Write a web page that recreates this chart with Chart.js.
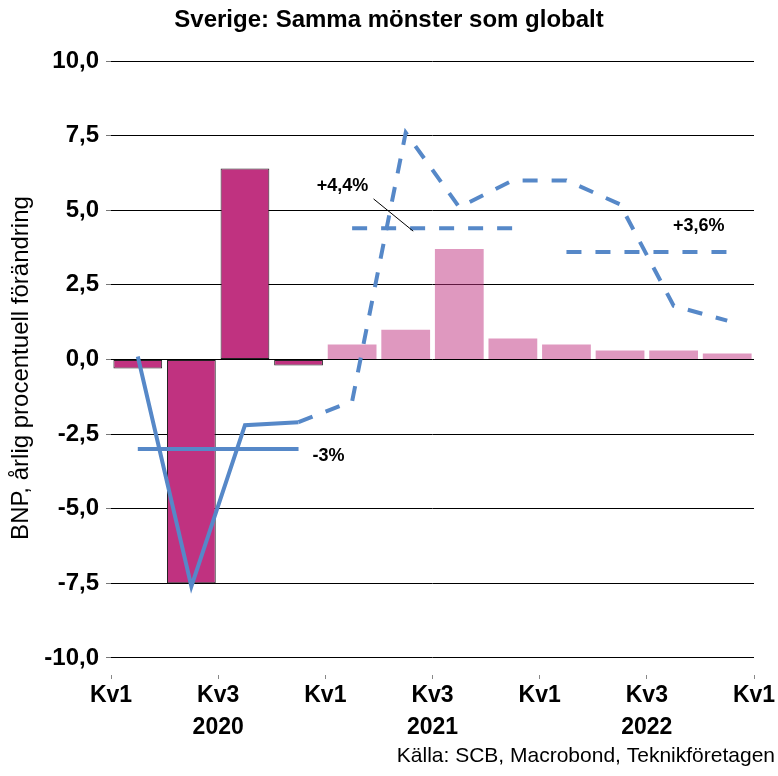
<!doctype html>
<html>
<head>
<meta charset="utf-8">
<title>Sverige: Samma mönster som globalt</title>
<script src="https://cdn.jsdelivr.net/npm/chart.js@4.4.1/dist/chart.umd.min.js"></script>
<style>
  html, body { margin: 0; padding: 0; background: #fff; }
</style>
</head>
<body>
<canvas id="chart" width="778" height="776"></canvas>
<script>
// kvartal 2020 Kv1 .. 2022 Kv4
var quarters = ['2020 Kv1', '2020 Kv2', '2020 Kv3', '2020 Kv4',
                '2021 Kv1', '2021 Kv2', '2021 Kv3', '2021 Kv4',
                '2022 Kv1', '2022 Kv2', '2022 Kv3', '2022 Kv4'];
// staplar: kvartalsförändring (mörka = utfall, ljusa = prognos)
var bnpBars = [-0.3, -7.5, 6.4, -0.2, 0.5, 1.0, 3.7, 0.7, 0.5, 0.3, 0.3, 0.2];
var outcomeCount = 4;
// linje: årlig procentuell förändring
var bnpYearly = [0.1, -7.6, -2.2, -2.1, -1.4, 7.6, 5.1, 6.0, 6.0, 5.2, 1.8, 1.3];
// årsgenomsnitt
var yearAvg = [-3.0, 4.4, 3.6];
var yearAvgLabels = ['-3%', '+4,4%', '+3,6%'];
// var etiketterna sitter (i kvartal / procent)
var yearAvgLabelX = [4.06, 4.32, 10.97];
var yearAvgLabelY = [-3.25, 5.81, 4.47];
var leaderX = [4.90, 5.64];
var leaderY = [5.38, 4.30];

var kvLabels = ['Kv1', 'Kv3', 'Kv1', 'Kv3', 'Kv1', 'Kv3', 'Kv1'];
var yearLabels = ['', '2020', '', '2021', '', '2022', ''];
var yTicks = [-10, -7.5, -5, -2.5, 0, 2.5, 5, 7.5, 10];

var darkColor = 'rgb(192,50,128)';
var lightColor = 'rgba(192,50,128,0.5)';
var blue = 'rgb(86,136,200)';
var fontFamily = '"Liberation Sans", Arial, sans-serif';

function pt(i, v) { return {x: i + 0.5, y: v}; }

var barData = bnpBars.map(function (v, i) { return pt(i, v); });
var solidLine = [], dashLine = [];
bnpYearly.forEach(function (v, i) {
    if (i < outcomeCount) solidLine.push(pt(i, v));
    if (i >= outcomeCount - 1) dashLine.push(pt(i, v));
});

var lineBase = {
    type: 'line', borderColor: blue, borderWidth: 4, pointRadius: 0,
    tension: 0, fill: false, borderCapStyle: 'butt', order: 1
};
var datasets = [
    Object.assign({}, lineBase, {data: solidLine}),
    Object.assign({}, lineBase, {data: dashLine, borderDash: [15, 14]})
];
yearAvg.forEach(function (v, k) {
    var d = [pt(k * 4, v), pt(k * 4 + 3, v)];
    var ds = Object.assign({}, lineBase, {data: d});
    if (k > 0) ds.borderDash = [15, 14];
    datasets.push(ds);
});
datasets.push({
    type: 'bar',
    data: barData,
    order: 2,
    backgroundColor: bnpBars.map(function (v, i) { return i < outcomeCount ? darkColor : lightColor; }),
    borderColor: '#222',
    borderWidth: bnpBars.map(function (v, i) { return i < outcomeCount ? 1 : 0; }),
    borderSkipped: false,
    barPercentage: 0.91,
    categoryPercentage: 1
});

var notes = {
    id: 'notes',
    afterDatasetsDraw: function (chart) {
        var ctx = chart.ctx, xs = chart.scales.x, ys = chart.scales.y;
        ctx.save();
        ctx.fillStyle = '#000';
        ctx.font = 'bold 18px ' + fontFamily;
        ctx.textAlign = 'center';
        ctx.textBaseline = 'middle';
        yearAvgLabels.forEach(function (t, i) {
            ctx.fillText(t, xs.getPixelForValue(yearAvgLabelX[i]), ys.getPixelForValue(yearAvgLabelY[i]));
        });
        ctx.strokeStyle = '#000';
        ctx.lineWidth = 1;
        ctx.beginPath();
        ctx.moveTo(xs.getPixelForValue(leaderX[0]), ys.getPixelForValue(leaderY[0]));
        ctx.lineTo(xs.getPixelForValue(leaderX[1]), ys.getPixelForValue(leaderY[1]));
        ctx.stroke();
        ctx.font = '21px ' + fontFamily;
        ctx.textAlign = 'right';
        ctx.fillText('Källa: SCB, Macrobond, Teknikföretagen', 775, 756);
        ctx.restore();
    }
};

new Chart(document.getElementById('chart').getContext('2d'), {
    type: 'bar',
    data: {datasets: datasets},
    plugins: [notes],
    options: {
        responsive: false,
        animation: false,
        layout: {padding: 0},
        plugins: {
            legend: {display: false},
            tooltip: {enabled: false},
            title: {
                display: true,
                text: 'Sverige: Samma mönster som globalt',
                color: '#000',
                font: {family: fontFamily, size: 24, weight: 'bold'},
                padding: {top: 6, bottom: 26.2}
            }
        },
        scales: {
            x: {
                type: 'linear',
                min: 0,
                max: 12,
                offset: false,
                border: {display: false},
                grid: {drawOnChartArea: false, drawTicks: true, tickLength: 4, tickColor: '#888', offset: false},
                ticks: {
                    stepSize: 2,
                    autoSkip: false,
                    maxRotation: 0,
                    padding: 1,
                    color: '#000',
                    font: {family: fontFamily, size: 23, weight: 'bold', lineHeight: 32 / 23},
                    callback: function (v) {
                        var i = Math.round(v / 2);
                        return yearLabels[i] ? [kvLabels[i], yearLabels[i]] : kvLabels[i];
                    }
                },
                afterFit: function (s) { s.height = 101; s.paddingRight = 24; }
            },
            y: {
                min: -10.57,
                max: 10,
                border: {display: false},
                grid: {color: '#000', lineWidth: 1, tickLength: 5, tickColor: '#777'},
                ticks: {
                    padding: 7,
                    color: '#000',
                    font: {family: fontFamily, size: 24, weight: 'bold'},
                    callback: function (v) { return v.toFixed(1).replace('.', ','); }
                },
                afterBuildTicks: function (s) {
                    s.ticks = yTicks.map(function (v) { return {value: v}; });
                },
                title: {
                    display: true,
                    text: 'BNP, årlig procentuell förändring',
                    color: '#000',
                    font: {family: fontFamily, size: 24},
                    padding: {top: 7, bottom: 0}
                },
                afterFit: function (s) { s.width = 111; }
            }
        }
    }
});
</script>
</body>
</html>
